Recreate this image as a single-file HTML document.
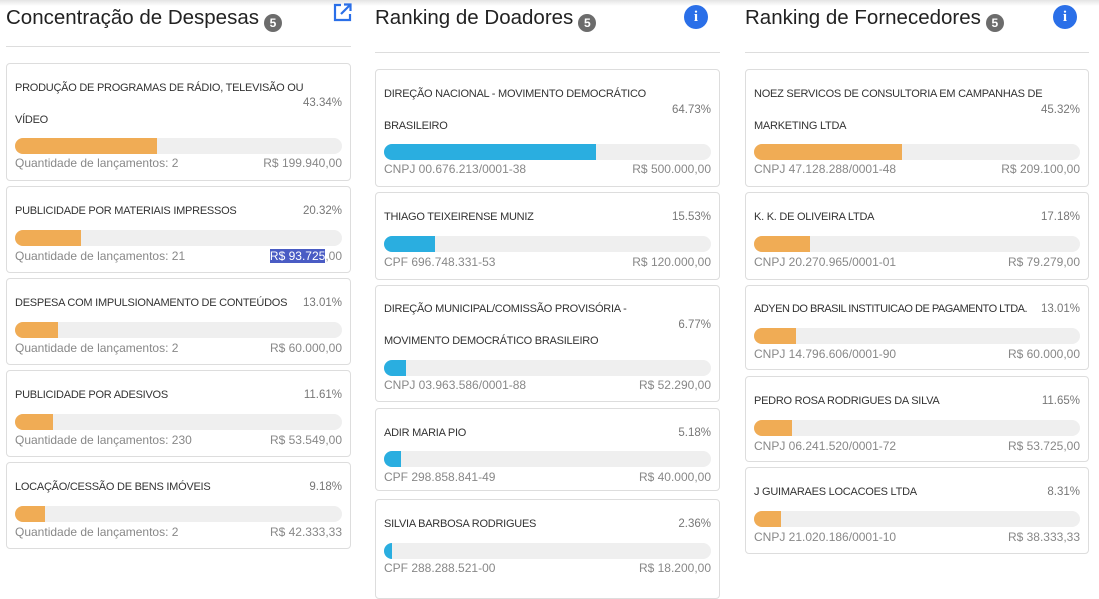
<!DOCTYPE html>
<html><head><meta charset="utf-8"><style>
body{margin:0;width:1099px;height:582px;overflow:hidden;background:#fff;font-family:"Liberation Sans",sans-serif;position:relative}
.top{position:absolute;left:0;top:0;width:1099px;height:6px;background:linear-gradient(#e4e4e4,#fff)}
.h{position:absolute;font-size:20.5px;color:#222;top:6px;white-space:nowrap}
.b{display:inline-block;width:18px;height:18px;border-radius:50%;background:#6c6c6c;color:#fff;font-size:12px;font-weight:bold;text-align:center;line-height:18px;vertical-align:-3px;margin-left:5px}
.hr{position:absolute;height:1px;background:#ddd}
.c{position:absolute;border:1px solid #ddd;border-radius:4px;box-sizing:border-box;background:#fff}
.c div{position:absolute;white-space:nowrap}
.t{left:8px;font-size:11px;color:#333;line-height:14px;margin-top:-7px;letter-spacing:-0.25px}
.p{right:8px;font-size:11.5px;color:#777;line-height:14px;margin-top:-7px}
.tr{left:8px;right:8px;height:16px;border-radius:8px;background:#efefef;overflow:hidden}
.f{left:0;top:0;height:16px}
.o{background:#f0ac55}.u{background:#2aaee0}
.l{left:8px;font-size:12px;color:#888;line-height:14px;margin-top:-7px}
.r{right:8px;font-size:12px;color:#888;line-height:14px;margin-top:-7px}
.i{position:absolute;width:24px;height:24px;border-radius:50%;background:#2a6fe8;color:#fff;font:bold 15px "Liberation Serif",serif;text-align:center;line-height:24px}
</style></head><body>
<div class="top"></div>
<div class="h" style="left:6px">Concentração de Despesas<span class="b">5</span></div>
<svg style="position:absolute;left:333px;top:3px" width="19" height="19" viewBox="0 0 19 19"><path d="M8 2H2v15h15v-6" fill="none" stroke="#2a6fe8" stroke-width="2.2"/><path d="M11 1.5h6.5V8M17.5 1.5 8 11" fill="none" stroke="#2a6fe8" stroke-width="2.2"/></svg>
<div class="hr" style="left:6px;width:345px;top:46px"></div>
<div class="h" style="left:375px">Ranking de Doadores<span class="b">5</span></div>
<div class="i" style="left:684px;top:5px">i</div>
<div class="hr" style="left:375px;width:345px;top:52px"></div>
<div class="h" style="left:745px">Ranking de Fornecedores<span class="b">5</span></div>
<div class="i" style="left:1053px;top:5px">i</div>
<div class="hr" style="left:745px;width:344px;top:52px"></div>

<!-- col1 -->
<div class="c" style="left:6px;top:63px;width:345px;height:118px">
<div class="t" style="top:24px">PRODUÇÃO DE PROGRAMAS DE RÁDIO, TELEVISÃO OU</div><div class="t" style="top:56px">VÍDEO</div><div class="p" style="top:39px">43.34%</div>
<div class="tr" style="top:74px"><div class="f o" style="width:43.34%"></div></div>
<div class="l" style="top:99px">Quantidade de lançamentos: 2</div><div class="r" style="top:99px">R$ 199.940,00</div></div>
<div class="c" style="left:6px;top:186px;width:345px;height:87px">
<div class="t" style="top:24px">PUBLICIDADE POR MATERIAIS IMPRESSOS</div><div class="p" style="top:24px">20.32%</div>
<div class="tr" style="top:43px"><div class="f o" style="width:20.32%"></div></div>
<div class="l" style="top:69px">Quantidade de lançamentos: 21</div><div class="r" style="top:69px"><span style="background:#4a5cc4;color:#fff">R$ 93.725</span>,00</div></div>
<div class="c" style="left:6px;top:278px;width:345px;height:87px">
<div class="t" style="top:24px">DESPESA COM IMPULSIONAMENTO DE CONTEÚDOS</div><div class="p" style="top:24px">13.01%</div>
<div class="tr" style="top:43px"><div class="f o" style="width:13.01%"></div></div>
<div class="l" style="top:69px">Quantidade de lançamentos: 2</div><div class="r" style="top:69px">R$ 60.000,00</div></div>
<div class="c" style="left:6px;top:370px;width:345px;height:87px">
<div class="t" style="top:24px">PUBLICIDADE POR ADESIVOS</div><div class="p" style="top:24px">11.61%</div>
<div class="tr" style="top:43px"><div class="f o" style="width:11.61%"></div></div>
<div class="l" style="top:69px">Quantidade de lançamentos: 230</div><div class="r" style="top:69px">R$ 53.549,00</div></div>
<div class="c" style="left:6px;top:462px;width:345px;height:87px">
<div class="t" style="top:24px">LOCAÇÃO/CESSÃO DE BENS IMÓVEIS</div><div class="p" style="top:24px">9.18%</div>
<div class="tr" style="top:43px"><div class="f o" style="width:9.18%"></div></div>
<div class="l" style="top:69px">Quantidade de lançamentos: 2</div><div class="r" style="top:69px">R$ 42.333,33</div></div>

<!-- col2 -->
<div class="c" style="left:375px;top:69px;width:345px;height:118px">
<div class="t" style="top:24px">DIREÇÃO NACIONAL - MOVIMENTO DEMOCRÁTICO</div><div class="t" style="top:56px">BRASILEIRO</div><div class="p" style="top:40px">64.73%</div>
<div class="tr" style="top:74px"><div class="f u" style="width:64.73%"></div></div>
<div class="l" style="top:99px">CNPJ 00.676.213/0001-38</div><div class="r" style="top:99px">R$ 500.000,00</div></div>
<div class="c" style="left:375px;top:192px;width:345px;height:88px">
<div class="t" style="top:24px">THIAGO TEIXEIRENSE MUNIZ</div><div class="p" style="top:24px">15.53%</div>
<div class="tr" style="top:43px"><div class="f u" style="width:15.53%"></div></div>
<div class="l" style="top:69px">CPF 696.748.331-53</div><div class="r" style="top:69px">R$ 120.000,00</div></div>
<div class="c" style="left:375px;top:285px;width:345px;height:117px">
<div class="t" style="top:23px">DIREÇÃO MUNICIPAL/COMISSÃO PROVISÓRIA -</div><div class="t" style="top:55px">MOVIMENTO DEMOCRÁTICO BRASILEIRO</div><div class="p" style="top:39px">6.77%</div>
<div class="tr" style="top:74px"><div class="f u" style="width:6.77%"></div></div>
<div class="l" style="top:99px">CNPJ 03.963.586/0001-88</div><div class="r" style="top:99px">R$ 52.290,00</div></div>
<div class="c" style="left:375px;top:408px;width:345px;height:83px">
<div class="t" style="top:24px">ADIR MARIA PIO</div><div class="p" style="top:24px">5.18%</div>
<div class="tr" style="top:42px"><div class="f u" style="width:5.18%"></div></div>
<div class="l" style="top:68px">CPF 298.858.841-49</div><div class="r" style="top:68px">R$ 40.000,00</div></div>
<div class="c" style="left:375px;top:499px;width:345px;height:100px">
<div class="t" style="top:24px">SILVIA BARBOSA RODRIGUES</div><div class="p" style="top:24px">2.36%</div>
<div class="tr" style="top:43px"><div class="f u" style="width:2.36%"></div></div>
<div class="l" style="top:68px">CPF 288.288.521-00</div><div class="r" style="top:68px">R$ 18.200,00</div></div>

<!-- col3 -->
<div class="c" style="left:745px;top:69px;width:344px;height:118px">
<div class="t" style="top:24px">NOEZ SERVICOS DE CONSULTORIA EM CAMPANHAS DE</div><div class="t" style="top:56px">MARKETING LTDA</div><div class="p" style="top:40px">45.32%</div>
<div class="tr" style="top:74px"><div class="f o" style="width:45.32%"></div></div>
<div class="l" style="top:99px">CNPJ 47.128.288/0001-48</div><div class="r" style="top:99px">R$ 209.100,00</div></div>
<div class="c" style="left:745px;top:192px;width:344px;height:88px">
<div class="t" style="top:24px">K. K. DE OLIVEIRA LTDA</div><div class="p" style="top:24px">17.18%</div>
<div class="tr" style="top:43px"><div class="f o" style="width:17.18%"></div></div>
<div class="l" style="top:69px">CNPJ 20.270.965/0001-01</div><div class="r" style="top:69px">R$ 79.279,00</div></div>
<div class="c" style="left:745px;top:285px;width:344px;height:85px">
<div class="t" style="top:23px;letter-spacing:-0.5px">ADYEN DO BRASIL INSTITUICAO DE PAGAMENTO LTDA.</div><div class="p" style="top:23px">13.01%</div>
<div class="tr" style="top:42px"><div class="f o" style="width:13.01%"></div></div>
<div class="l" style="top:68px">CNPJ 14.796.606/0001-90</div><div class="r" style="top:68px">R$ 60.000,00</div></div>
<div class="c" style="left:745px;top:376px;width:344px;height:86px">
<div class="t" style="top:24px">PEDRO ROSA RODRIGUES DA SILVA</div><div class="p" style="top:24px">11.65%</div>
<div class="tr" style="top:43px"><div class="f o" style="width:11.65%"></div></div>
<div class="l" style="top:69px">CNPJ 06.241.520/0001-72</div><div class="r" style="top:69px">R$ 53.725,00</div></div>
<div class="c" style="left:745px;top:467px;width:344px;height:87px">
<div class="t" style="top:24px">J GUIMARAES LOCACOES LTDA</div><div class="p" style="top:24px">8.31%</div>
<div class="tr" style="top:43px"><div class="f o" style="width:8.31%"></div></div>
<div class="l" style="top:69px">CNPJ 21.020.186/0001-10</div><div class="r" style="top:69px">R$ 38.333,33</div></div>
</body></html>
